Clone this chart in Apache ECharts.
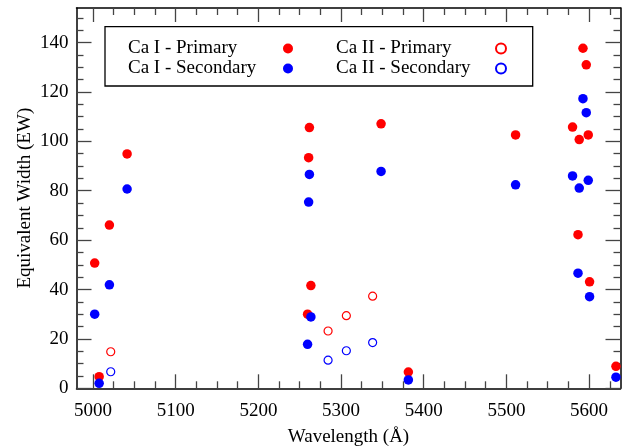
<!DOCTYPE html>
<html>
<head>
<meta charset="utf-8">
<script src="https://cdn.jsdelivr.net/npm/echarts@6/dist/echarts.min.js"></script>
<style>
  html, body { margin: 0; padding: 0; background: #fff; }
  #chart { width: 629px; height: 448px; }
</style>
</head>
<body>
<div id="chart"></div>
<script>
// Ca I lines: wavelength (Å) and equivalent widths
const caIWave = [5002, 5007.4, 5019.8, 5041.2, 5259.5, 5260.8, 5261.7, 5263.5, 5348.4, 5381.4,
  5511.1, 5580, 5586.6, 5588.1, 5592.6, 5596.6, 5599, 5600.6, 5632.5]
const caIPrimary = [50.7, 4.7, 66.1, 94.9, 30.0, 93.4, 105.6, 41.6, 107.1, 6.6,
  102.6, 105.8, 62.2, 100.7, 137.7, 131.0, 102.6, 43.1, 8.9]
const caISecondary = [30.0, 2.0, 41.9, 80.7, 17.8, 75.4, 86.6, 28.9, 87.8, 3.4,
  82.4, 86.0, 46.6, 81.1, 117.3, 111.6, 84.2, 37.1, 4.5]

// Ca II lines
const caIIWave = [5021.4, 5284.3, 5306.4, 5338.2]
const caIIPrimary = [14.8, 23.2, 29.4, 37.3]
const caIISecondary = [6.7, 11.4, 15.2, 18.5]

// axis ticks
const xTicks = [5000, 5100, 5200, 5300, 5400, 5500, 5600]
const yTicks = [0, 20, 40, 60, 80, 100, 120, 140]

const X_MIN = 4980
const X_MAX = 5638
const Y_MIN = 0
const Y_MAX = 154

const FONT = 'Liberation Serif'
const FS = 19
const RED = '#ff0000'
const BLUE = '#0000ff'

function pairs(xs, ys) {
  return xs.map((x, i) => [x, ys[i]])
}

// minor ticks between the major ones
function minorTicks(min, max, step, majors) {
  const out = []
  for (let v = Math.ceil(min / step) * step; v <= max; v += step) {
    if (majors.indexOf(v) < 0) out.push(v)
  }
  return out
}
const xMinor = minorTicks(X_MIN, X_MAX, 25, xTicks)
const yMinor = minorTicks(Y_MIN, Y_MAX, 5, yTicks)

// main = draws the axis line, labels only on the bottom one
function xAxisCfg(position, ticks, len, main) {
  const labels = main && position === 'bottom'
  return {
    type: 'value',
    position: position,
    min: X_MIN,
    max: X_MAX,
    splitLine: { show: false },
    axisLine: { show: main, onZero: false, lineStyle: { color: '#000', width: 1.5 } },
    axisTick: { show: true, inside: true, length: len, customValues: ticks, lineStyle: { color: '#444', width: 1.3 } },
    axisLabel: labels
      ? { show: true, customValues: xTicks, margin: 13, fontFamily: FONT, fontSize: FS, color: '#000', formatter: (v) => String(v) }
      : { show: false },
    name: labels ? 'Wavelength (Å)' : '',
    nameLocation: 'middle',
    nameGap: 39,
    nameMoveOverlap: false,
    nameTextStyle: { fontFamily: FONT, fontSize: FS, color: '#000' }
  }
}

function yAxisCfg(position, ticks, len, main) {
  const labels = main && position === 'left'
  return {
    type: 'value',
    position: position,
    min: Y_MIN,
    max: Y_MAX,
    splitLine: { show: false },
    axisLine: { show: main, onZero: false, lineStyle: { color: '#000', width: 1.5 } },
    axisTick: { show: true, inside: true, length: len, customValues: ticks, lineStyle: { color: '#444', width: 1.3 } },
    axisLabel: labels
      ? { show: true, customValues: yTicks, margin: 8, fontFamily: FONT, fontSize: FS, color: '#000', formatter: (v) => String(v) }
      : { show: false },
    name: labels ? 'Equivalent Width (EW)' : '',
    nameLocation: 'middle',
    nameGap: 42,
    nameMoveOverlap: false,
    nameTextStyle: { fontFamily: FONT, fontSize: FS, color: '#000' }
  }
}

const chart = echarts.init(document.getElementById('chart'), null, { renderer: 'canvas' })

const legendText = {
  fontFamily: FONT,
  fontSize: FS,
  color: '#000',
  rich: {
    a: { width: 150, align: 'left', fontFamily: FONT, fontSize: FS, lineHeight: 18, color: '#000' },
    b: { width: 155, align: 'left', fontFamily: FONT, fontSize: FS, lineHeight: 18, color: '#000' }
  }
}

const option = {
  animation: false,
  backgroundColor: '#fff',
  grid: { left: 76.5, right: 8.5, top: 8, bottom: 59.7, outerBoundsMode: 'none', containLabel: false },
  xAxis: [
    xAxisCfg('bottom', xTicks, 14, true),
    xAxisCfg('bottom', xMinor, 7, false),
    xAxisCfg('top', xTicks, 14, true),
    xAxisCfg('top', xMinor, 7, false)
  ],
  yAxis: [
    yAxisCfg('left', yTicks, 15, true),
    yAxisCfg('left', yMinor, 7, false),
    yAxisCfg('right', yTicks, 15, true),
    yAxisCfg('right', yMinor, 7, false)
  ],
  legend: [
    {
      data: ['Ca I - Primary', 'Ca I - Secondary'],
      orient: 'vertical',
      left: 128,
      top: 39,
      padding: 0,
      itemGap: 1,
      align: 'right',
      itemWidth: 10,
      itemHeight: 10,
      formatter: (name) => '{a|' + name + '}',
      textStyle: legendText
    },
    {
      data: ['Ca II - Primary', 'Ca II - Secondary'],
      orient: 'vertical',
      left: 336,
      top: 39,
      padding: 0,
      itemGap: 1,
      align: 'right',
      itemWidth: 10,
      itemHeight: 10,
      formatter: (name) => '{b|' + name + '}',
      textStyle: legendText
    }
  ],
  graphic: [
    {
      type: 'rect',
      shape: { x: 105, y: 26.7, width: 427.7, height: 59.3 },
      style: { fill: 'none', stroke: '#000', lineWidth: 1.3 },
      z: 1
    }
  ],
  series: [
    {
      name: 'Ca I - Primary',
      type: 'scatter',
      symbol: 'circle',
      symbolSize: 9.5,
      itemStyle: { color: RED, opacity: 1 },
      data: pairs(caIWave, caIPrimary)
    },
    {
      name: 'Ca I - Secondary',
      type: 'scatter',
      symbol: 'circle',
      symbolSize: 9.5,
      itemStyle: { color: BLUE, opacity: 1 },
      data: pairs(caIWave, caISecondary)
    },
    {
      name: 'Ca II - Primary',
      type: 'scatter',
      symbol: 'circle',
      symbolSize: 8,
      itemStyle: { color: 'rgba(255,255,255,0)', borderColor: RED, borderWidth: 1.2, opacity: 1 },
      data: pairs(caIIWave, caIIPrimary)
    },
    {
      name: 'Ca II - Secondary',
      type: 'scatter',
      symbol: 'circle',
      symbolSize: 8,
      itemStyle: { color: 'rgba(255,255,255,0)', borderColor: BLUE, borderWidth: 1.2, opacity: 1 },
      data: pairs(caIIWave, caIISecondary)
    }
  ]
}

chart.setOption(option)
</script>
</body>
</html>
